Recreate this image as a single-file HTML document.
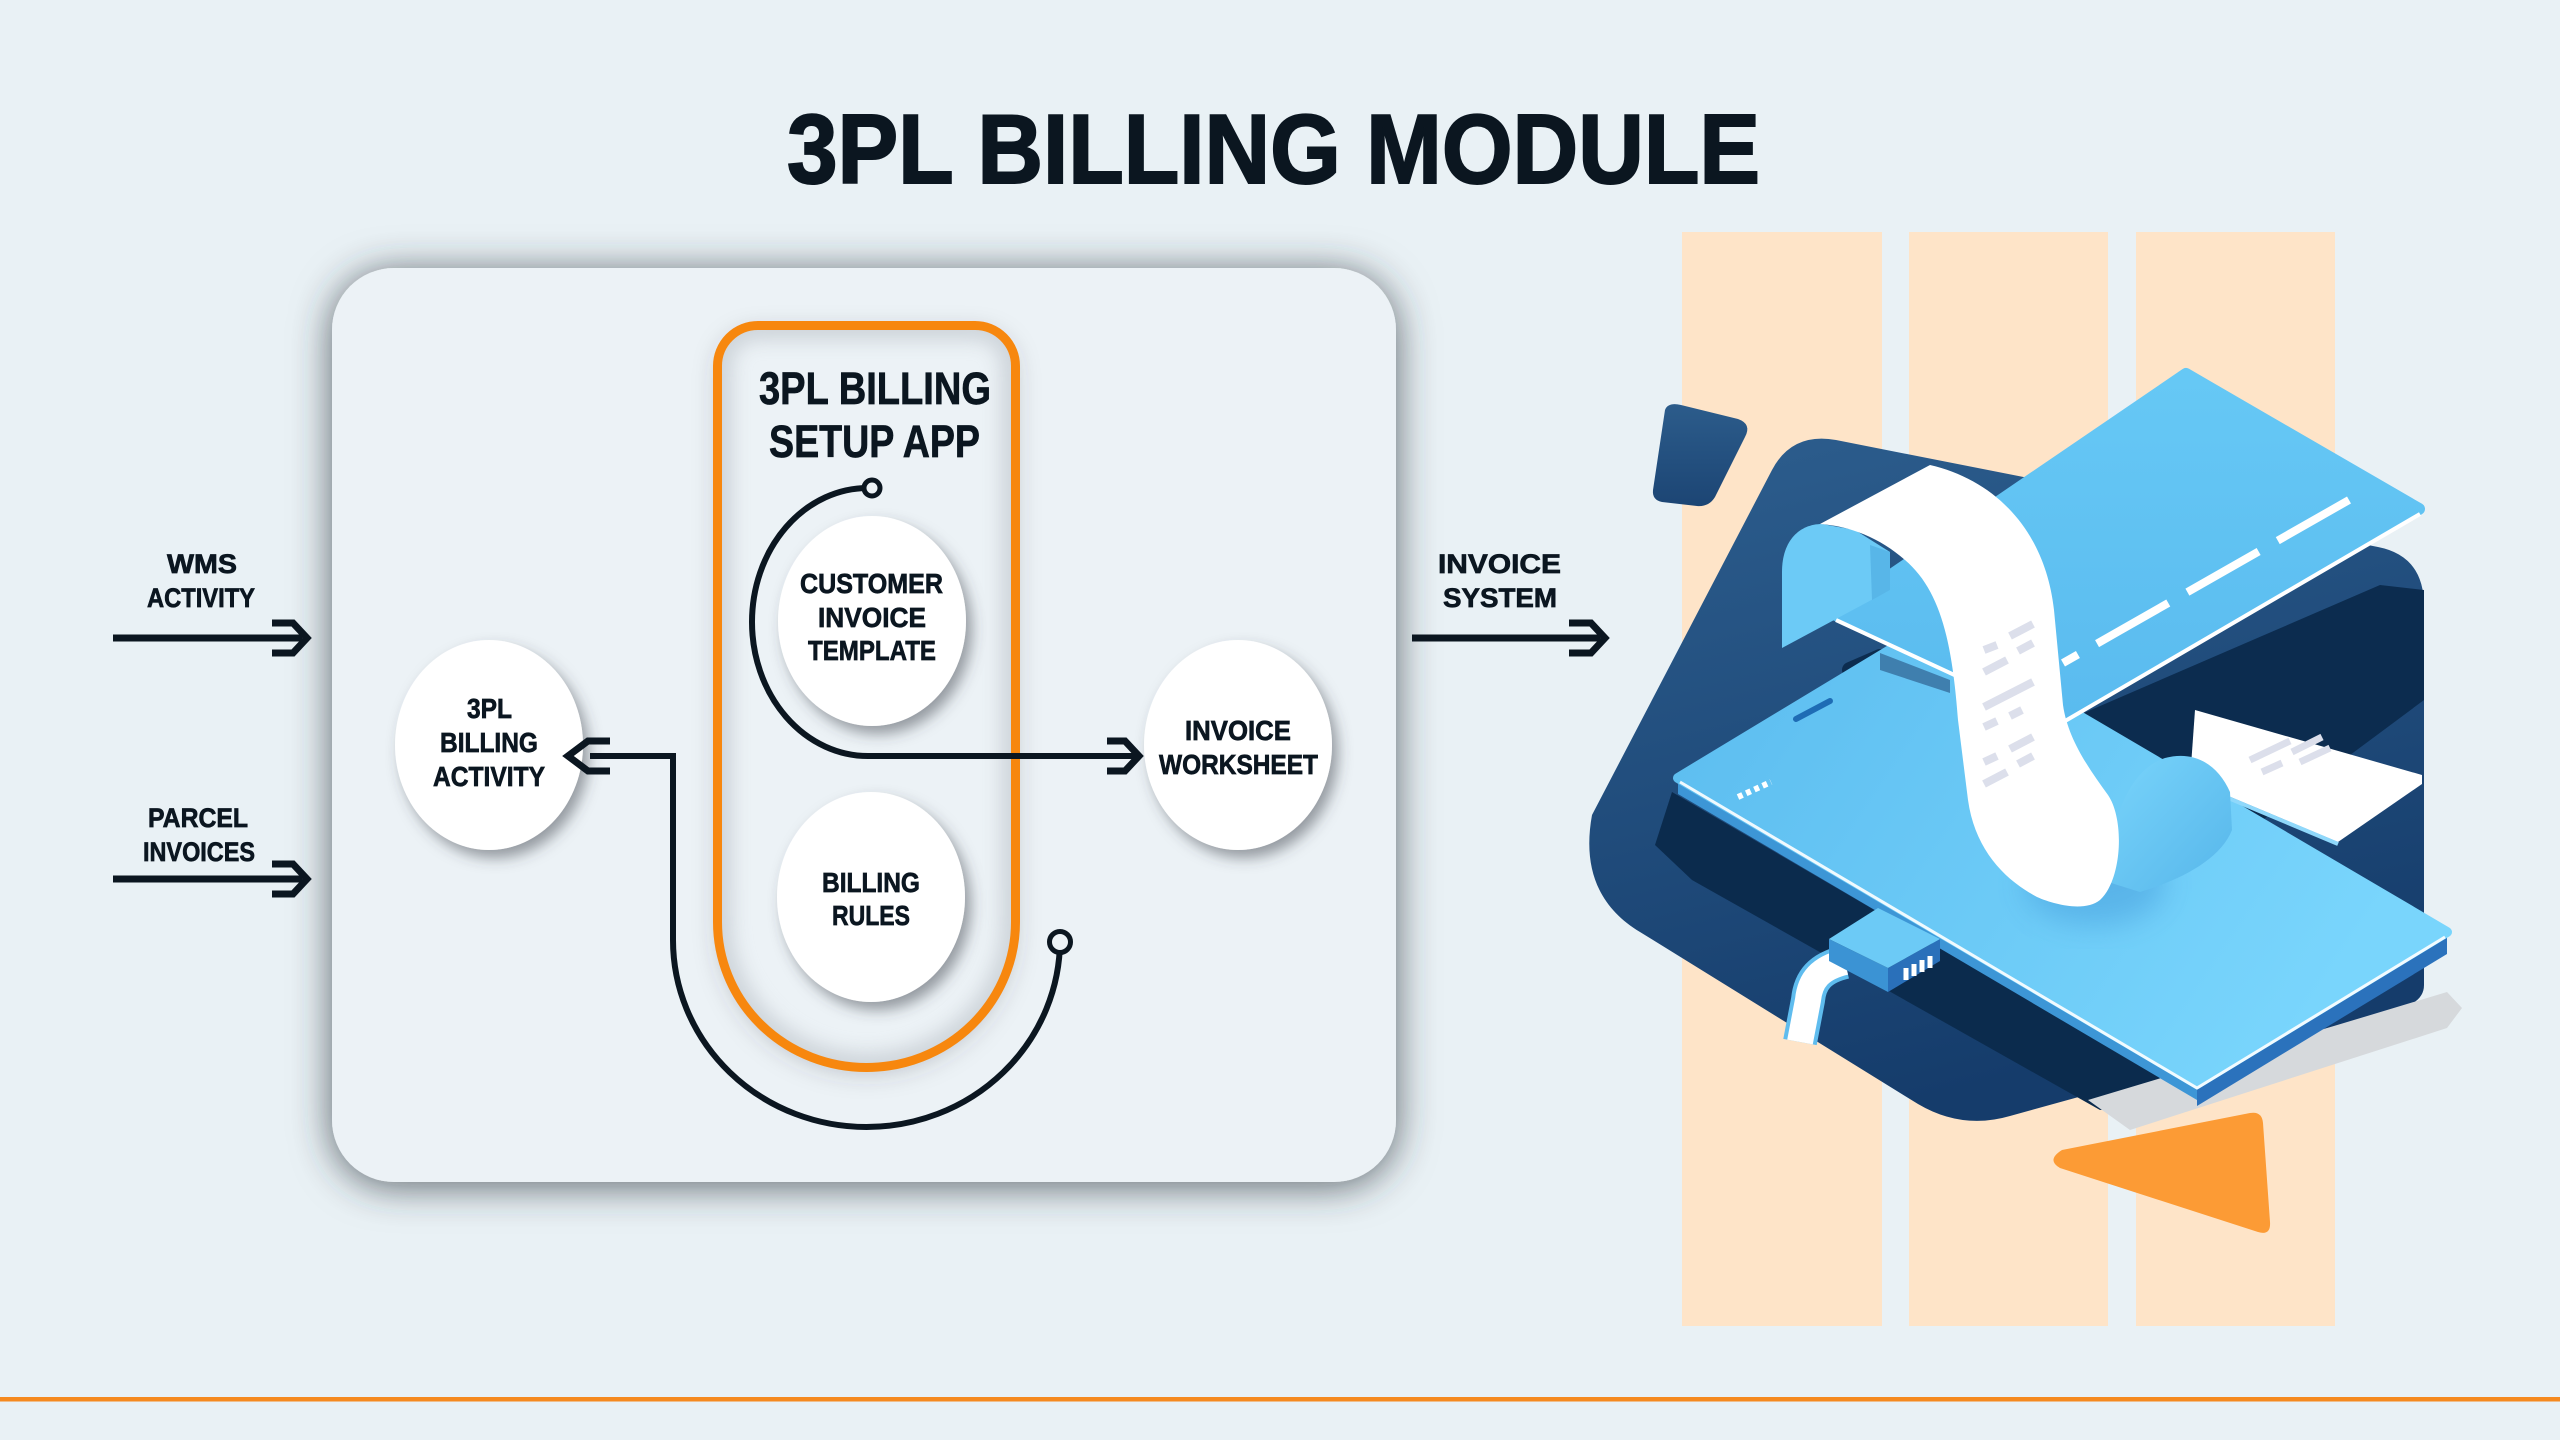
<!DOCTYPE html>
<html>
<head>
<meta charset="utf-8">
<style>
html,body{margin:0;padding:0;background:#e9f1f5;width:2560px;height:1440px;overflow:hidden;}
svg{display:block;}
text{font-family:"Liberation Sans",Arial,sans-serif;font-weight:700;fill:#0b1620;stroke:#0b1620;stroke-width:0.7px;}
text.big{stroke-width:2px;}
</style>
</head>
<body>
<svg width="2560" height="1440" viewBox="0 0 2560 1440" xmlns="http://www.w3.org/2000/svg">
<defs>
  <filter id="panelSh" x="-12%" y="-12%" width="124%" height="124%">
    <feDropShadow dx="0" dy="4" stdDeviation="20" flood-color="#2e363d" flood-opacity="0.75"/>
  </filter>
  <filter id="nodeSh" x="-40%" y="-40%" width="180%" height="180%">
    <feDropShadow dx="6" dy="8" stdDeviation="7" flood-color="#3a4148" flood-opacity="0.5"/>
  </filter>
  <filter id="pillSh" x="-20%" y="-10%" width="140%" height="120%">
    <feDropShadow dx="0" dy="6" stdDeviation="12" flood-color="#3a4148" flood-opacity="0.25"/>
  </filter>
  <filter id="blur9" x="-10%" y="-10%" width="120%" height="120%">
    <feGaussianBlur stdDeviation="9"/>
  </filter>
  <filter id="blur14" x="-30%" y="-30%" width="160%" height="160%">
    <feGaussianBlur stdDeviation="14"/>
  </filter>
  <clipPath id="pillClip">
    <path d="M717.5,366 A40.5,40.5 0 0 1 758,325.5 L975,325.5 A40.5,40.5 0 0 1 1015.5,366 L1015.5,922 A149,145.5 0 0 1 717.5,922 Z"/>
  </clipPath>
  <clipPath id="phoneClip">
    <polygon points="1678,778 1928,627 2447,932 2197,1084"/>
  </clipPath>
  <linearGradient id="navyG" x1="0" y1="0" x2="0.3" y2="1">
    <stop offset="0" stop-color="#2d5e8e"/>
    <stop offset="1" stop-color="#153c6b"/>
  </linearGradient>
  <linearGradient id="quadG" x1="0" y1="0" x2="0" y2="1">
    <stop offset="0" stop-color="#2c5c8b"/>
    <stop offset="1" stop-color="#1c4574"/>
  </linearGradient>
  <linearGradient id="phoneG" x1="0" y1="0" x2="1" y2="0.4">
    <stop offset="0" stop-color="#5bbcef"/>
    <stop offset="1" stop-color="#79d5fc"/>
  </linearGradient>
  <linearGradient id="cardG" x1="0" y1="0" x2="0" y2="1">
    <stop offset="0" stop-color="#66c8f5"/>
    <stop offset="1" stop-color="#5abbef"/>
  </linearGradient>
  <linearGradient id="curlG" x1="0" y1="0" x2="1" y2="1">
    <stop offset="0" stop-color="#79d4fb"/>
    <stop offset="1" stop-color="#56b6ea"/>
  </linearGradient>
</defs>

<rect x="0" y="0" width="2560" height="1440" fill="#e9f1f5"/>

<text class="big" x="787" y="183" font-size="98" textLength="973" lengthAdjust="spacingAndGlyphs">3PL BILLING MODULE</text>

<rect x="332" y="268" width="1064" height="914" rx="62" ry="62" fill="#ecf2f6" filter="url(#panelSh)"/>

<path d="M717.5,366 A40.5,40.5 0 0 1 758,325.5 L975,325.5 A40.5,40.5 0 0 1 1015.5,366 L1015.5,922 A149,145.5 0 0 1 717.5,922 Z" fill="#ecf2f6" filter="url(#pillSh)"/>
<g clip-path="url(#pillClip)">
  <path d="M717.5,366 A40.5,40.5 0 0 1 758,325.5 L975,325.5 A40.5,40.5 0 0 1 1015.5,366 L1015.5,922 A149,145.5 0 0 1 717.5,922 Z" fill="none" stroke="#b7bec5" stroke-width="30" opacity="0.55" filter="url(#blur9)"/>
</g>
<path d="M717.5,366 A40.5,40.5 0 0 1 758,325.5 L975,325.5 A40.5,40.5 0 0 1 1015.5,366 L1015.5,922 A149,145.5 0 0 1 717.5,922 Z" fill="none" stroke="#f7870e" stroke-width="9"/>

<text x="759" y="404" font-size="45" textLength="232" lengthAdjust="spacingAndGlyphs">3PL BILLING</text>
<text x="769" y="457" font-size="45" textLength="211" lengthAdjust="spacingAndGlyphs">SETUP APP</text>

<ellipse cx="872" cy="621" rx="94" ry="105" fill="#ffffff" filter="url(#nodeSh)"/>
<ellipse cx="871" cy="897" rx="94" ry="105" fill="#ffffff" filter="url(#nodeSh)"/>
<ellipse cx="489" cy="745" rx="94" ry="105" fill="#ffffff" filter="url(#nodeSh)"/>
<ellipse cx="1238" cy="745" rx="94" ry="105" fill="#ffffff" filter="url(#nodeSh)"/>

<g fill="none" stroke="#0b1620" stroke-width="6">
  <path d="M868,488 A116,134 0 0 0 752,622 A116,134 0 0 0 868,756 L1136,756"/>
  <path d="M590,756 L673,756 L673,940 A193.5,187 0 0 0 1060,940"/>
</g>
<circle cx="872" cy="488" r="8" fill="#ecf2f6" stroke="#0b1620" stroke-width="5"/>
<circle cx="1060" cy="942" r="10.5" fill="#ecf2f6" stroke="#0b1620" stroke-width="5"/>

<g fill="none" stroke="#0b1620" stroke-width="7" stroke-linejoin="miter" stroke-miterlimit="10">
  <path d="M113,638 L302,638"/>
  <path d="M272,623 L293,623 L307,638 L293,653 L272,653"/>
  <path d="M113,879 L302,879"/>
  <path d="M272,864 L293,864 L307,879 L293,894 L272,894"/>
  <path d="M1412,638 L1600,638"/>
  <path d="M1569,623 L1591,623 L1605,638 L1591,653 L1569,653"/>
  <path d="M1107,741 L1125,741 L1139,756 L1125,771 L1107,771"/>
  <path d="M610,741 L588,741 L568,756 L588,771 L610,771"/>
</g>

<text x="167" y="573" font-size="27" textLength="70" lengthAdjust="spacingAndGlyphs">WMS</text>
<text x="147" y="607" font-size="27" textLength="108" lengthAdjust="spacingAndGlyphs">ACTIVITY</text>
<text x="148" y="827" font-size="27" textLength="100" lengthAdjust="spacingAndGlyphs">PARCEL</text>
<text x="143" y="861" font-size="27" textLength="112" lengthAdjust="spacingAndGlyphs">INVOICES</text>
<text x="1438" y="573" font-size="27" textLength="123" lengthAdjust="spacingAndGlyphs">INVOICE</text>
<text x="1443" y="607" font-size="27" textLength="114" lengthAdjust="spacingAndGlyphs">SYSTEM</text>

<text x="800" y="593" font-size="28" textLength="143" lengthAdjust="spacingAndGlyphs">CUSTOMER</text>
<text x="818" y="627" font-size="28" textLength="108" lengthAdjust="spacingAndGlyphs">INVOICE</text>
<text x="808" y="660" font-size="28" textLength="128" lengthAdjust="spacingAndGlyphs">TEMPLATE</text>

<text x="822" y="892" font-size="28" textLength="98" lengthAdjust="spacingAndGlyphs">BILLING</text>
<text x="832" y="925" font-size="28" textLength="78" lengthAdjust="spacingAndGlyphs">RULES</text>

<text x="467" y="718" font-size="28" textLength="45" lengthAdjust="spacingAndGlyphs">3PL</text>
<text x="440" y="752" font-size="28" textLength="98" lengthAdjust="spacingAndGlyphs">BILLING</text>
<text x="433" y="786" font-size="28" textLength="112" lengthAdjust="spacingAndGlyphs">ACTIVITY</text>

<text x="1185" y="740" font-size="28" textLength="106" lengthAdjust="spacingAndGlyphs">INVOICE</text>
<text x="1159" y="774" font-size="28" textLength="159" lengthAdjust="spacingAndGlyphs">WORKSHEET</text>

<!-- Illustration -->
<rect x="1682" y="232" width="200" height="1094" fill="#fee4c8"/>
<rect x="1909" y="232" width="199" height="1094" fill="#fee4c8"/>
<rect x="2136" y="232" width="199" height="1094" fill="#fee4c8"/>

<path d="M1665,410 Q1668,402 1681,405 L1738,419 Q1752,424 1745,437 L1715,497 Q1709,507 1697,506 L1662,502 Q1652,500 1653,490 Z" fill="url(#quadG)"/>

<path d="M1592,815 L1772,470 Q1792,432 1836,440 L2378,547 Q2424,556 2424,606 L2424,985 Q2424,1002 2400,1008 L2010,1116 Q1962,1130 1918,1104 L1640,932 C1600,908 1582,870 1592,815 Z" fill="url(#navyG)"/>

<polygon points="2063,722 2380,585 2424,590 2424,700 2260,822 2063,706" fill="#0c2c4f"/>
<line x1="1850" y1="670" x2="1880" y2="657" stroke="#0c2c4f" stroke-width="16" stroke-linecap="round"/>
<polygon points="1672,792 2200,1100 2100,1110 1692,880 1655,845" fill="#0b2b4d"/>

<polygon points="2088,1100 2447,992 2462,1008 2447,1028 2130,1130" fill="#d6d9dc"/>

<polygon points="1678,778 2197,1084 2197,1100 1678,794" fill="#3d96d6"/>
<polygon points="2197,1084 2447,932 2447,954 2197,1106" fill="#2b72bc"/>
<polygon points="1678,778 1928,627 2447,932 2197,1084" fill="url(#phoneG)" stroke="url(#phoneG)" stroke-width="10" stroke-linejoin="round"/>
<g clip-path="url(#phoneClip)">
  <ellipse cx="2095" cy="885" rx="70" ry="40" fill="#3f97d8" opacity="0.45" filter="url(#blur14)"/>
</g>
<polyline points="1680,782 2197,1088 2445,937" fill="none" stroke="#ffffff" stroke-width="3" opacity="0.9"/>
<polygon points="1880,653 1950,680 1950,693 1880,670" fill="#3f7fae"/>
<line x1="1796" y1="719" x2="1830" y2="701" stroke="#1e6cb5" stroke-width="6" stroke-linecap="round"/>
<line x1="1738" y1="797" x2="1771" y2="782" stroke="#ffffff" stroke-width="6" stroke-dasharray="5 4"/>

<path d="M1800,1042 L1808,1000 C1810,980 1820,968 1845,962" fill="none" stroke="#5fbcee" stroke-width="34"/>
<path d="M1800,1042 L1808,1000 C1810,980 1820,968 1845,962" fill="none" stroke="#ffffff" stroke-width="26"/>
<polygon points="1829,939 1888,968 1888,992 1829,961" fill="#3b93d4"/>
<polygon points="1888,968 1940,939 1940,961 1888,992" fill="#2a70ba"/>
<polygon points="1829,939 1878,908 1940,939 1888,968" fill="#6ccaf6"/>
<g stroke="#ffffff" stroke-width="5">
  <line x1="1906" y1="968" x2="1906" y2="980"/>
  <line x1="1914" y1="964" x2="1914" y2="976"/>
  <line x1="1922" y1="960" x2="1922" y2="972"/>
  <line x1="1930" y1="956" x2="1930" y2="968"/>
</g>

<polygon points="2186,374 2419,509 2060,719 1834,614" fill="url(#cardG)" stroke="url(#cardG)" stroke-width="12" stroke-linejoin="round"/>
<polyline points="1836,620 2060,724 2420,514" fill="none" stroke="#ffffff" stroke-width="4"/>
<line x1="2349" y1="500" x2="2063" y2="663" stroke="#ffffff" stroke-width="8" stroke-dasharray="82 22"/>

<polygon points="2195,710 2422,775 2422,784 2338,842 2190,780" fill="#ffffff"/>
<polyline points="2190,782 2338,844" fill="none" stroke="#8fd8fb" stroke-width="4"/>
<g stroke="#dcdfeb" stroke-width="7">
  <line x1="2250" y1="760" x2="2290" y2="741"/>
  <line x1="2262" y1="772" x2="2282" y2="763"/>
  <line x1="2292" y1="752" x2="2322" y2="737"/>
  <line x1="2300" y1="762" x2="2330" y2="748"/>
</g>

<path d="M2108,882 C2110,820 2128,770 2165,758 C2195,750 2218,765 2230,792 L2232,830 C2220,860 2180,880 2140,892 Z" fill="url(#curlG)"/>

<path d="M1782,648 L1782,572 C1782,540 1800,524 1822,524 L1855,530 L1890,552 L1890,590 Z" fill="#6ccaf6"/>
<polygon points="1870,545 1890,552 1890,590 1872,600" fill="#58b6e8"/>

<path d="M1820,524 L1930,465 C1995,480 2045,530 2054,610 L2063,705 C2068,740 2090,770 2108,795 C2125,820 2122,880 2100,900 C2085,912 2055,905 2037,897 C2005,880 1975,850 1968,800 L1958,720 C1952,640 1940,590 1905,560 C1880,538 1850,526 1820,524 Z" fill="#ffffff"/>
<g stroke="#dcdfeb" stroke-width="8">
  <line x1="1984" y1="650" x2="1997" y2="645"/>
  <line x1="2010" y1="636" x2="2033" y2="624"/>
  <line x1="1984" y1="672" x2="2007" y2="660"/>
  <line x1="2018" y1="651" x2="2033" y2="643"/>
  <line x1="1984" y1="707" x2="2033" y2="682"/>
  <line x1="1984" y1="727" x2="1997" y2="721"/>
  <line x1="2010" y1="716" x2="2022" y2="710"/>
  <line x1="1984" y1="762" x2="1997" y2="756"/>
  <line x1="2010" y1="749" x2="2033" y2="737"/>
  <line x1="1984" y1="784" x2="2007" y2="772"/>
  <line x1="2018" y1="764" x2="2033" y2="756"/>
</g>

<path d="M2062,1150 L2250,1113 Q2262,1111 2263,1123 L2270,1222 Q2271,1236 2258,1232 L2060,1168 Q2046,1160 2062,1150 Z" fill="#fc9b35"/>

<rect x="0" y="1397" width="2560" height="4.5" fill="#f5891f"/>
</svg>
</body>
</html>
